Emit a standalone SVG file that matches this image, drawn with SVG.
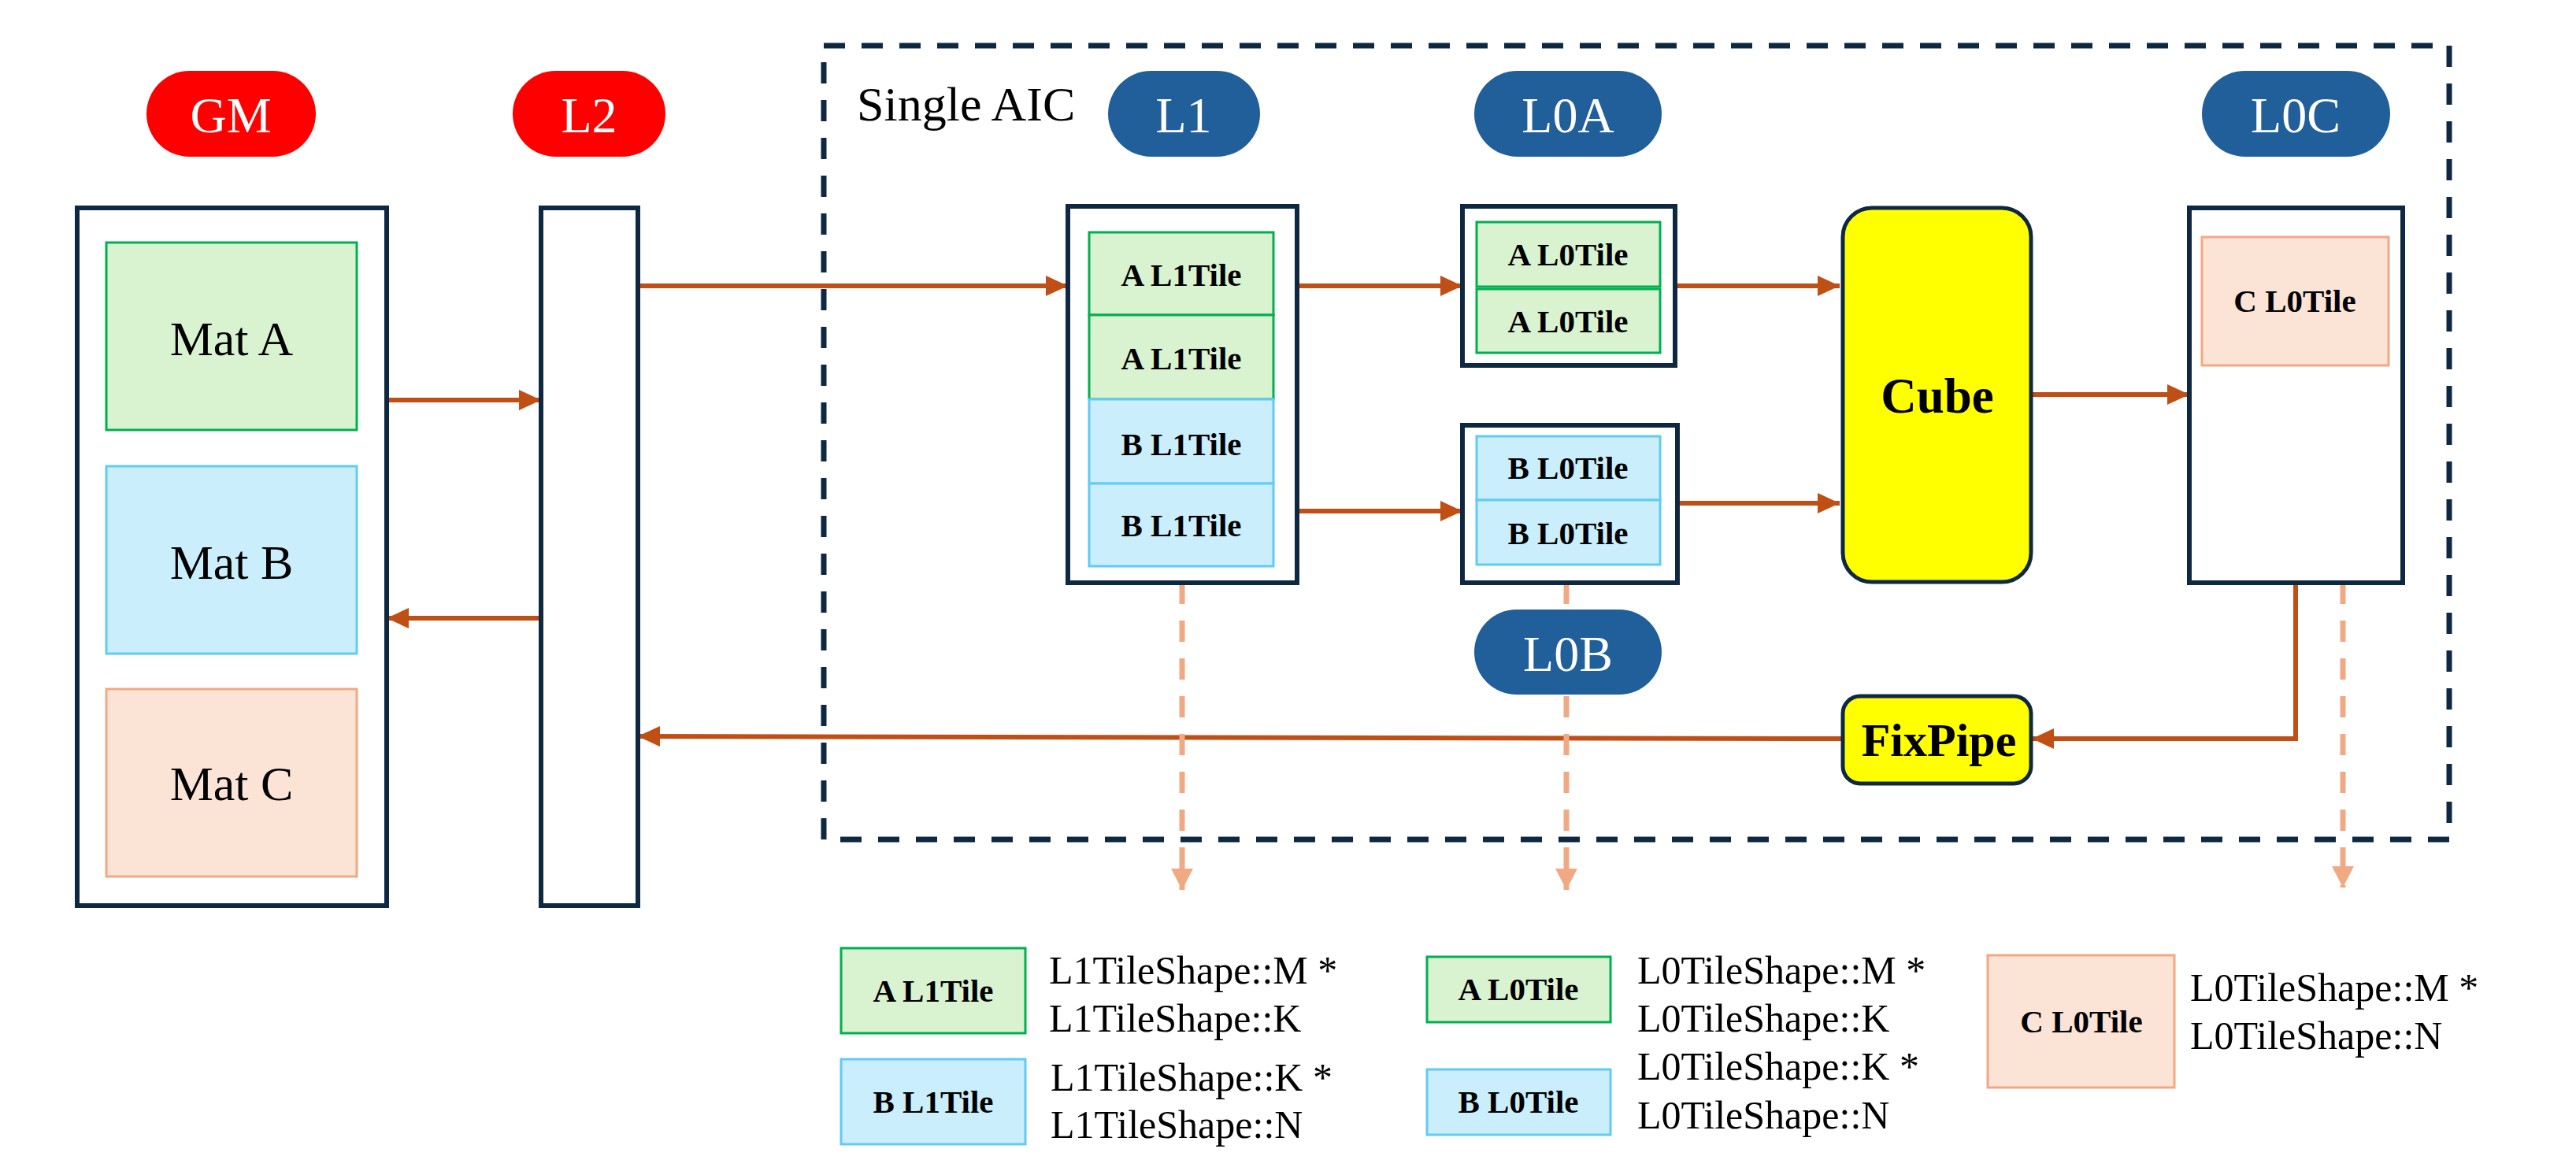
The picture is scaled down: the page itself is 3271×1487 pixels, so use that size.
<svg xmlns="http://www.w3.org/2000/svg" width="3271" height="1487" viewBox="0 0 3271 1487">
<style>
.pillR{fill:#FF0000}
.pillB{fill:#215F9A}
.pt{font-family:"Liberation Serif",serif;font-size:64px;fill:#FFFFFF;text-anchor:middle}
.box{fill:#FFFFFF;stroke:#0E2841;stroke-width:6}
.ga{fill:#D9F2D0;stroke:#00B050;stroke-width:3}
.gb{fill:#CAEEFB;stroke:#61CBF3;stroke-width:3}
.gc{fill:#FBE3D6;stroke:#F1A983;stroke-width:3}
.mt{font-family:"Liberation Serif",serif;font-size:62px;fill:#000000;text-anchor:middle}
.bt{font-family:"Liberation Serif",serif;font-size:41px;font-weight:bold;fill:#000000;text-anchor:middle}
.lt{font-family:"Liberation Serif",serif;font-size:50px;fill:#000000}
.yel{fill:#FFFF00;stroke:#0E2841;stroke-width:5}
.big{font-family:"Liberation Serif",serif;font-weight:bold;fill:#000000;text-anchor:middle}
.arr{fill:none;stroke:#C04F15;stroke-width:6;marker-end:url(#ah)}
.dsh{fill:none;stroke:#F1A983;stroke-width:7;stroke-dasharray:27 21;marker-end:url(#dh)}
</style>
<defs>
<marker id="ah" markerUnits="userSpaceOnUse" markerWidth="30" markerHeight="28" refX="28" refY="13" orient="auto">
<path d="M0,0 L28,13 L0,26 z" fill="#C04F15"/>
</marker>
<marker id="dh" markerUnits="userSpaceOnUse" markerWidth="30" markerHeight="30" refX="27" refY="14" orient="auto">
<path d="M0,0 L27,14 L0,28 z" fill="#F1A983"/>
</marker>
</defs>
<rect width="3271" height="1487" fill="#FFFFFF"/>

<g id="single-aic">
<rect x="1046" y="58" width="2064" height="1008" fill="none" stroke="#0E2841" stroke-width="7" stroke-dasharray="27 21"/>
<text x="1088" y="153" font-family="Liberation Serif, serif" font-size="62" fill="#000000">Single AIC</text>
</g>

<g id="connectors">
<line class="arr" x1="491" y1="508" x2="687" y2="508"/>
<line class="arr" x1="687" y1="785" x2="491" y2="785"/>
<line class="arr" x1="810" y1="363" x2="1356" y2="363"/>
<line class="arr" x1="1647" y1="363" x2="1857" y2="363"/>
<line class="arr" x1="1647" y1="649" x2="1857" y2="649"/>
<line class="arr" x1="2127" y1="363" x2="2336" y2="363"/>
<line class="arr" x1="2130" y1="639" x2="2336" y2="639"/>
<line class="arr" x1="2579" y1="501" x2="2780" y2="501"/>
<path class="arr" d="M2915,740 V938 H2580"/>
<path class="arr" d="M2340,938 L810,935"/>
<line class="dsh" x1="1501" y1="740" x2="1501" y2="1130"/>
<line class="dsh" x1="1989" y1="740" x2="1989" y2="1130"/>
<line class="dsh" x1="2975" y1="740" x2="2975" y2="1127"/>
</g>

<g id="gm-label">
<rect class="pillR" x="186" y="90" width="215" height="109" rx="54.5"/>
<text class="pt" x="293" y="168">GM</text>
</g>
<g id="l2-label">
<rect class="pillR" x="651" y="90" width="194" height="109" rx="54.5"/>
<text class="pt" x="748" y="168">L2</text>
</g>
<g id="gm">
<rect class="box" x="98" y="264" width="393" height="886"/>
<rect class="ga" x="135" y="308" width="318" height="238"/>
<text class="mt" x="294" y="451">Mat A</text>
<rect class="gb" x="135" y="592" width="318" height="238"/>
<text class="mt" x="294" y="735">Mat B</text>
<rect class="gc" x="135" y="875" width="318" height="238"/>
<text class="mt" x="294" y="1016">Mat C</text>
</g>
<g id="l2">
<rect class="box" x="687" y="264" width="123" height="886"/>
</g>

<g id="l1-label">
<rect class="pillB" x="1407" y="90" width="193" height="109" rx="54.5"/>
<text class="pt" x="1503" y="168">L1</text>
</g>
<g id="l1">
<rect class="box" x="1356" y="262" width="291" height="478"/>
<rect class="ga" x="1383" y="295" width="234" height="105"/>
<text class="bt" x="1500" y="363">A L1Tile</text>
<rect class="ga" x="1383" y="400" width="234" height="107"/>
<text class="bt" x="1500" y="469">A L1Tile</text>
<rect class="gb" x="1383" y="507" width="234" height="107"/>
<text class="bt" x="1500" y="578">B L1Tile</text>
<rect class="gb" x="1383" y="614" width="234" height="105"/>
<text class="bt" x="1500" y="681">B L1Tile</text>
</g>

<g id="l0a-label">
<rect class="pillB" x="1872" y="90" width="238" height="109" rx="54.5"/>
<text class="pt" x="1991" y="168">L0A</text>
</g>
<g id="l0a">
<rect class="box" x="1857" y="262" width="270" height="202"/>
<rect class="ga" x="1875" y="282" width="233" height="82"/>
<text class="bt" x="1991" y="337">A L0Tile</text>
<rect class="ga" x="1875" y="367" width="233" height="81"/>
<text class="bt" x="1991" y="422">A L0Tile</text>
</g>
<g id="l0b">
<rect class="box" x="1857" y="540" width="273" height="200"/>
<rect class="gb" x="1875" y="554" width="233" height="81"/>
<text class="bt" x="1991" y="608">B L0Tile</text>
<rect class="gb" x="1875" y="635" width="233" height="82"/>
<text class="bt" x="1991" y="691">B L0Tile</text>
</g>
<g id="l0b-label">
<rect class="pillB" x="1872" y="774" width="238" height="108" rx="54"/>
<text class="pt" x="1991" y="852">L0B</text>
</g>

<g id="cube">
<rect class="yel" x="2340" y="264" width="239" height="475" rx="37"/>
<text class="big" x="2460" y="524" font-size="63">Cube</text>
</g>
<g id="fixpipe">
<rect class="yel" x="2340" y="884" width="239" height="111" rx="22"/>
<text class="big" x="2462" y="960" font-size="60">FixPipe</text>
</g>

<g id="l0c-label">
<rect class="pillB" x="2796" y="90" width="239" height="109" rx="54.5"/>
<text class="pt" x="2915" y="168">L0C</text>
</g>
<g id="l0c">
<rect class="box" x="2780" y="264" width="271" height="476"/>
<rect class="gc" x="2796" y="301" width="237" height="163"/>
<text class="bt" x="2914" y="396">C L0Tile</text>
</g>

<g id="legend-a-l1">
<rect class="ga" x="1068" y="1204" width="234" height="108"/>
<text class="bt" x="1185" y="1272">A L1Tile</text>
<text class="lt" x="1332" y="1249">L1TileShape::M *</text>
<text class="lt" x="1332" y="1310">L1TileShape::K</text>
</g>
<g id="legend-b-l1">
<rect class="gb" x="1068" y="1345" width="234" height="108"/>
<text class="bt" x="1185" y="1413">B L1Tile</text>
<text class="lt" x="1334" y="1385">L1TileShape::K *</text>
<text class="lt" x="1334" y="1445">L1TileShape::N</text>
</g>
<g id="legend-a-l0">
<rect class="ga" x="1812" y="1215" width="233" height="83"/>
<text class="bt" x="1928" y="1270">A L0Tile</text>
<text class="lt" x="2079" y="1249">L0TileShape::M *</text>
<text class="lt" x="2079" y="1310">L0TileShape::K</text>
</g>
<g id="legend-b-l0">
<rect class="gb" x="1812" y="1358" width="233" height="83"/>
<text class="bt" x="1928" y="1413">B L0Tile</text>
<text class="lt" x="2079" y="1371">L0TileShape::K *</text>
<text class="lt" x="2079" y="1433">L0TileShape::N</text>
</g>
<g id="legend-c-l0">
<rect class="gc" x="2524" y="1213" width="237" height="168"/>
<text class="bt" x="2643" y="1311">C L0Tile</text>
<text class="lt" x="2781" y="1271">L0TileShape::M *</text>
<text class="lt" x="2781" y="1332">L0TileShape::N</text>
</g>
</svg>
